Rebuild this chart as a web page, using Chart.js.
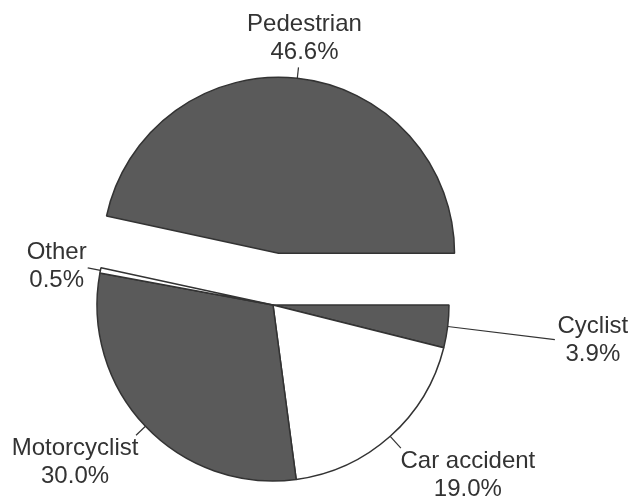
<!DOCTYPE html>
<html>
<head>
<meta charset="utf-8">
<script src="https://cdn.jsdelivr.net/npm/chart.js@4"></script>
<style>
  html, body { margin: 0; padding: 0; background: #fff; }
  #wrap { width: 630px; height: 498px; }
  canvas { display: block; }
</style>
</head>
<body>
<div id="wrap"><canvas id="pie" width="630" height="498"></canvas></div>
<script>
// slices go clockwise from 3 o'clock
const categories = ['Cyclist', 'Car accident', 'Motorcyclist', 'Other', 'Pedestrian'];
const shares = [3.9, 19.0, 30.0, 0.5, 46.6];

const sliceColors = ['#5a5a5a', '#ffffff', '#5a5a5a', '#ffffff', '#5a5a5a'];
const explode = [0, 0, 0, 0, 52];

// label layout: leader length out from the slice, then text block offset from leader end
const leaderLen = [108, 16, 13, 13, 11];
const textShift = [[38, 1], [67, 27], [-61, 27], [-31, -1], [6, -29]];

const FONT = '24px "Liberation Sans", Arial, sans-serif';

const explodePlugin = {
  id: 'explode',
  afterDatasetsUpdate(chart) {
    const meta = chart.getDatasetMeta(0);
    meta.data.forEach((arc, i) => {
      if (!explode[i] || arc._exploded) return;
      const baseDraw = arc.draw;
      arc.draw = function (ctx) {
        const mid = (this.startAngle + this.endAngle) / 2;
        ctx.save();
        ctx.translate(Math.cos(mid) * explode[i], Math.sin(mid) * explode[i]);
        baseDraw.call(this, ctx);
        ctx.restore();
      };
      arc._exploded = true;
    });
  }
};

const labelPlugin = {
  id: 'sliceLabels',
  afterDraw(chart) {
    const ctx = chart.ctx;
    const meta = chart.getDatasetMeta(0);
    ctx.save();
    ctx.font = FONT;
    ctx.fillStyle = '#333';
    ctx.strokeStyle = '#333';
    ctx.lineWidth = 1.2;
    ctx.textAlign = 'center';
    ctx.textBaseline = 'middle';
    meta.data.forEach((arc, i) => {
      const mid = (arc.startAngle + arc.endAngle) / 2;
      const cx = arc.x + Math.cos(mid) * explode[i];
      const cy = arc.y + Math.sin(mid) * explode[i];
      const r = arc.outerRadius;
      const x0 = cx + Math.cos(mid) * r;
      const y0 = cy + Math.sin(mid) * r;
      const x1 = cx + Math.cos(mid) * (r + leaderLen[i]);
      const y1 = cy + Math.sin(mid) * (r + leaderLen[i]);
      ctx.beginPath();
      ctx.moveTo(x0, y0);
      ctx.lineTo(x1, y1);
      ctx.stroke();
      const tx = x1 + textShift[i][0];
      const ty = y1 + textShift[i][1];
      ctx.fillText(categories[i], tx, ty - 14);
      ctx.fillText(shares[i].toFixed(1) + '%', tx, ty + 14);
    });
    ctx.restore();
  }
};

new Chart(document.getElementById('pie'), {
  type: 'pie',
  data: {
    labels: categories,
    datasets: [{
      data: shares,
      backgroundColor: sliceColors,
      borderColor: '#333',
      borderWidth: 1.5
    }]
  },
  options: {
    responsive: false,
    animation: false,
    rotation: 90,
    radius: 176,
    layout: { padding: { left: 0, right: 84, top: 112, bottom: 0 } },
    plugins: {
      legend: { display: false },
      tooltip: { enabled: false }
    }
  },
  plugins: [explodePlugin, labelPlugin]
});
</script>
</body>
</html>
